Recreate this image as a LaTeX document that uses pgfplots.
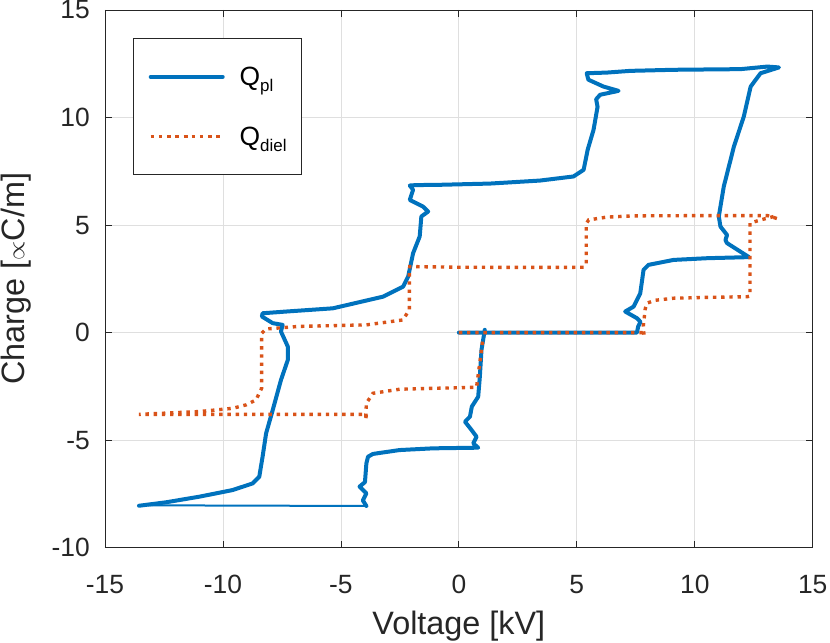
\documentclass[border=0pt]{standalone}
\usepackage{fontspec}
\setmainfont{Liberation Sans}
\usepackage{pgfplots}
\pgfplotsset{compat=1.18}
\definecolor{mblue}{RGB}{0,114,189}
\definecolor{morange}{RGB}{217,83,25}
\definecolor{axgray}{RGB}{38,38,38}
\definecolor{gridgray}{RGB}{223,223,223}
\begin{document}
\begin{tikzpicture}
\begin{axis}[
 name=ax, at={(0,0)}, anchor=south west,
 scale only axis, width=707.7bp, height=537.7bp,
 xmin=-15, xmax=15, ymin=-10, ymax=15,
 xtick={-15,-10,-5,0,5,10,15}, ytick={-10,-5,0,5,10,15},
 xticklabels={-15,-10,-5,0,5,10,15},
 yticklabels={-10,-5,0,5,10,15},
 tick align=inside, major tick length=7bp,
 tick style={axgray, line width=0.8bp},
 axis line style={axgray, line width=0.8bp},
 grid=major, grid style={gridgray, line width=0.8bp},
 ticklabel style={font=\fontsize{26.5}{30}\selectfont, text=axgray},
 xticklabel style={anchor=center, inner sep=0pt, yshift=-37bp},
 yticklabel style={anchor=east, inner sep=0pt, xshift=-15bp},
 xlabel={Voltage [kV]}, ylabel={Charge [$\propto$C/m]},
 label style={font=\fontsize{32.5}{36}\selectfont, text=axgray},
 xlabel style={at={(axis description cs:0.5,-0.145)}, anchor=center},
 ylabel style={at={(axis description cs:-0.1258,0.5)}, anchor=center, rotate=0},
 legend cell align=left,
 legend image code/.code={\draw[mark repeat=2,mark phase=2] plot coordinates {(0bp,0bp) (36bp,0bp) (72bp,0bp)};},
 legend style={at={(axis description cs:0.040,0.947)}, anchor=north west,
   draw=axgray, line width=0.8bp, fill=white,
   inner xsep=15bp, inner ysep=28bp, row sep=40bp, column sep=15bp,
   nodes={inner sep=0pt, anchor=west},
   font=\fontsize{26.5}{30}\selectfont},
]
\addplot[mblue, line width=4bp, line join=round, line cap=round] coordinates {
(0,0) (7.55,0) (7.6,0.28) (7.7,0.5) (7.55,0.67) (7.05,0.98) (7.41,1.21) (7.69,1.83)
(7.83,2.92) (8.04,3.15) (9.1,3.38) (10.53,3.46) (12.30,3.51) (11.37,4.16) (11.3,4.3)
(11.37,4.54) (11.09,4.93) (11.02,5.40) (11.23,6.79) (11.66,8.65) (12.08,10.05)
(12.37,11.44) (12.79,12.06) (13.57,12.33) (13.08,12.37) (11.94,12.25) (9.11,12.22)
(7.27,12.17) (6.27,12.09) (5.42,12.06) (5.49,11.76) (6.13,11.44) (6.77,11.24)
(5.99,11.06) (5.82,10.85) (5.88,10.5) (5.71,9.43) (5.46,8.50) (5.29,7.57) (4.86,7.26)
(3.44,7.07) (1.32,6.93) (-0.9,6.87) (-1.80,6.86) (-2.08,6.84) (-1.94,6.64) (-2.08,6.17)
(-1.52,5.86) (-1.30,5.63) (-1.59,5.40) (-1.66,4.47) (-1.94,3.69) (-2.15,2.60)
(-2.36,2.14) (-3.22,1.67) (-5.34,1.13) (-7.32,0.98) (-8.32,0.90) (-8.35,0.75)
(-7.89,0.44) (-7.47,0.36) (-7.54,0.05) (-7.25,-0.65) (-7.25,-1.27) (-7.54,-2.20)
(-7.89,-3.60) (-8.17,-4.68) (-8.32,-5.77) (-8.46,-6.70) (-8.74,-7.01) (-9.59,-7.32)
(-11.01,-7.63) (-12.42,-7.89) (-13.56,-8.05)
};
\addlegendentry{Q\raisebox{-6bp}{\fontsize{17}{20}\selectfont pl}}
\addplot[mblue, line width=2bp, forget plot] coordinates {(-13.2,-8.03) (-3.92,-8.06)};
\addplot[mblue, line width=4bp, line join=round, line cap=round, forget plot] coordinates {
(-3.92,-8.06) (-4.07,-7.8) (-3.92,-7.47)
(-4.21,-7.16) (-3.98,-6.95) (-3.92,-6.08) (-3.85,-5.77) (-3.64,-5.64) (-2.51,-5.46)
(-1.09,-5.38) (0.82,-5.35) (0.61,-5.15) (0.75,-4.84) (0.54,-4.53) (0.26,-4.14)
(0.47,-3.91) (0.55,-3.44) (0.82,-2.98) (0.89,-2.05) (0.96,-0.8) (1.10,0.13)
};
\addplot[morange, line width=3.4bp, dash pattern=on 3.4bp off 4.8bp] coordinates {
(0,0) (7.8,0) (7.85,-0.15) (7.82,0.3) (7.9,1.1) (7.98,1.37) (8.3,1.5) (9.11,1.60)
(10.53,1.64) (12.23,1.67) (12.34,1.7) (12.34,5.09) (12.79,5.24) (13.36,5.40)
(13.50,5.30) (13.08,5.44) (10.95,5.44) (7.41,5.43) (6.27,5.37) (5.50,5.24)
(5.40,5.05) (5.40,3.2) (5.29,3.04) (4,3.03) (0,3.04) (-2.08,3.07) (-2.1,2.9)
(-2.1,1.06) (-2.37,0.59) (-3.92,0.36) (-6.76,0.29) (-8.17,0.17) (-8.36,-0.03)
(-8.36,-2.59) (-8.60,-3.13) (-9.02,-3.36) (-9.59,-3.52) (-11.0,-3.67) (-13.56,-3.80)
(-3.92,-3.80) (-3.95,-4.06) (-3.92,-3.28) (-3.64,-2.82) (-2.5,-2.63) (0.75,-2.54)
(0.96,-0.8) (1.02,-0.3)
};
\addlegendentry{Q\raisebox{-6bp}{\fontsize{17}{20}\selectfont diel}}
\end{axis}
\pgfresetboundingbox
\path ([shift={(-105bp,-95.3bp)}]ax.south west) rectangle ([shift={(17.3bp,10bp)}]ax.north east);
\end{tikzpicture}
\end{document}
